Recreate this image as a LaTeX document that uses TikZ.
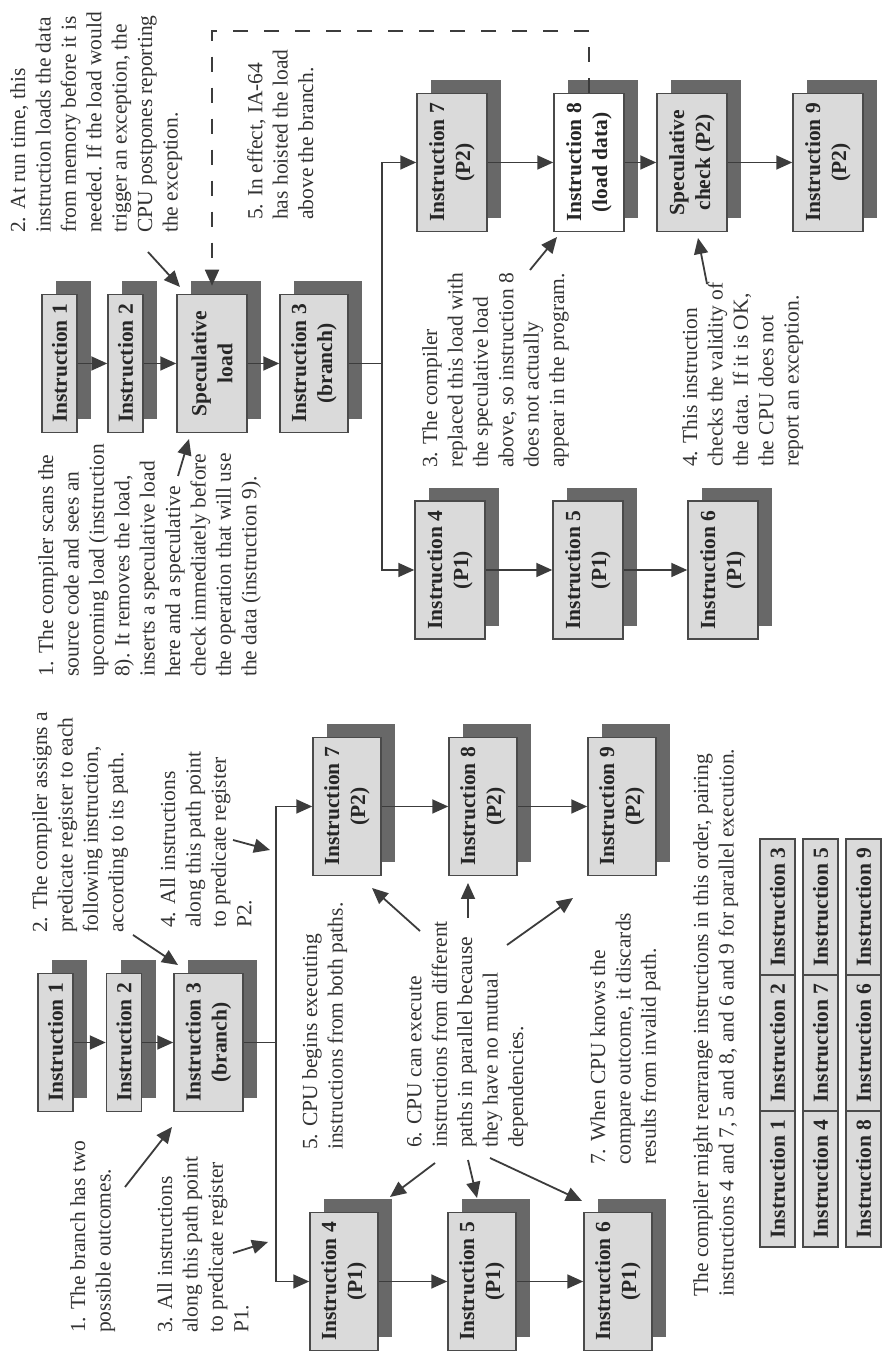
\documentclass[tikz,border=0pt]{standalone}
\usepackage{fontspec}
\setmainfont{Liberation Serif}
\usetikzlibrary{arrows.meta,calc}
\definecolor{linec}{HTML}{3C3C3C}
\definecolor{boxf}{HTML}{DADADA}
\definecolor{shadc}{HTML}{686868}
\definecolor{bord}{HTML}{4A4A4A}
\definecolor{txtc}{HTML}{333333}
\newcommand\instbox[6][]{%
  \node[shadbox,minimum height=#5pt] (#2s) at ({#3+13},{#4-14}) {};
  \node[ibox,minimum height=#5pt,#1] (#2) at (#3,#4) {#6};}
\begin{document}
\begin{tikzpicture}[x=1pt,y=1pt,
  ibox/.style={draw=bord,line width=1.5pt,fill=boxf,minimum width=138pt,inner sep=0pt,align=center,text=black!85,font=\bfseries\fontsize{21.5}{26}\selectfont},
  shadbox/.style={fill=shadc,draw=none,minimum width=138pt,inner sep=0pt},
  note/.style={anchor=north west,inner sep=0pt,align=left,text=txtc,font=\fontsize{21.5}{25.4}\selectfont},
  arr/.style={draw=linec,line width=1.8pt,-{Triangle[length=16pt,width=14pt]}},
  ln/.style={draw=linec,line width=1.8pt},
  dsh/.style={arr,dash pattern=on 15pt off 16pt},
  cell/.style={draw=bord,line width=1.5pt,fill=boxf,minimum width=136pt,minimum height=35pt,inner sep=0pt,text=black!85,font=\bfseries\fontsize{21.5}{26}\selectfont}]
\fill[white] (0,0) rectangle (882,1356);
\useasboundingbox (0,0) rectangle (882,1356);
\begin{scope}[rotate=90,transform shape]
% ---------------- left panel: predication ----------------
\instbox{L1}{313.5}{-55.5}{35}{Instruction 1}
\instbox{L2}{313.5}{-124}{35}{Instruction 2}
\instbox{L3}{313.5}{-208.5}{69}{Instruction 3\\(branch)}
\instbox{L4}{74.5}{-344}{68}{Instruction 4\\(P1)}
\instbox{L5}{74.5}{-482}{68}{Instruction 5\\(P1)}
\instbox{L6}{74.5}{-618}{68}{Instruction 6\\(P1)}
\instbox{L7}{549.5}{-347}{68}{Instruction 7\\(P2)}
\instbox{L8}{549.5}{-483}{68}{Instruction 8\\(P2)}
\instbox{L9}{549.5}{-622}{68}{Instruction 9\\(P2)}
\draw[arr] (L1.south) -- (L2.north);
\draw[arr] (L2.south) -- (L3.north);
\coordinate (Lj) at (313.5,-276);
\draw[ln] (L3.south) -- (Lj);
\draw[arr] (Lj) -| (L4.north);
\draw[arr] (Lj) -| (L7.north);
\draw[arr] (L4.south) -- (L5.north);
\draw[arr] (L5.south) -- (L6.north);
\draw[arr] (L7.south) -- (L8.north);
\draw[arr] (L8.south) -- (L9.north);
\node[note] (T1) at (23,-70) {1. The branch has two\\possible outcomes.};
\node[note] (T3) at (23,-157) {3. All instructions\\along this path point\\to predicate register\\P1.};
\node[note] (T2) at (423,-32) {2. The compiler assigns a\\predicate register to each\\following instruction,\\according to its path.};
\node[note] (T4) at (428,-160) {4. All instructions\\along this path point\\to predicate register\\P2.};
\node[note] (T5) at (206,-302) {5. CPU begins executing\\instructions from both paths.};
\node[note] (T6) at (208,-407) {6. CPU can execute\\instructions from different\\paths in parallel because\\they have no mutual\\dependencies.};
\node[note] (T7) at (191,-590) {7. When CPU knows the\\compare outcome, it discards\\results from invalid path.};
\coordinate (a1s) at (169,-125); \coordinate (a1e) at (229,-172);
\coordinate (a2s) at (421,-133); \coordinate (a2e) at (391,-178);
\coordinate (a3s) at (103,-233); \coordinate (a3e) at (114,-268);
\coordinate (a4s) at (516,-233); \coordinate (a4e) at (506,-270);
\draw[arr] (a1s) -- (a1e);
\draw[arr] (a2s) -- (a2e);
\draw[arr] (a3s) -- (a3e);
\draw[arr] (a4s) -- (a4e);
\coordinate (b4s) at (193,-435); \coordinate (b4e) at (159,-390);
\coordinate (b5s) at (196,-468); \coordinate (b5e) at (158,-477);
\coordinate (b6s) at (198,-490); \coordinate (b6e) at (155,-582);
\coordinate (b7s) at (425,-420); \coordinate (b7e) at (468,-372);
\coordinate (b8s) at (438,-468); \coordinate (b8e) at (473,-468);
\coordinate (b9s) at (411,-507); \coordinate (b9e) at (458,-573);
\draw[arr] (b4s) -- (b4e);
\draw[arr] (b5s) -- (b5e);
\draw[arr] (b6s) -- (b6e);
\draw[arr] (b7s) -- (b7e);
\draw[arr] (b8s) -- (b8e);
\draw[arr] (b9s) -- (b9e);
\node[note] (cap) at (59,-693) {The compiler might rearrange instructions in this order, pairing\\instructions 4 and 7, 5 and 8, and 6 and 9 for parallel execution.};
\node[cell] (c11) at (177,-777.5) {Instruction 1};
\node[cell] (c12) at (313,-777.5) {Instruction 2};
\node[cell] (c13) at (449,-777.5) {Instruction 3};
\node[cell] (c21) at (177,-820.5) {Instruction 4};
\node[cell] (c22) at (313,-820.5) {Instruction 7};
\node[cell] (c23) at (449,-820.5) {Instruction 5};
\node[cell] (c31) at (177,-863.5) {Instruction 8};
\node[cell] (c32) at (313,-863.5) {Instruction 6};
\node[cell] (c33) at (449,-863.5) {Instruction 9};
% ---------------- right panel: speculation ----------------
\instbox{R1}{992.5}{-59.5}{35}{Instruction 1}
\instbox{R2}{992.5}{-125.5}{35}{Instruction 2}
\instbox{R3}{992.5}{-212}{70}{Speculative\\load}
\instbox{R4}{992.5}{-314}{68}{Instruction 3\\(branch)}
\instbox{R5}{786}{-450}{70}{Instruction 4\\(P1)}
\instbox{R6}{786}{-588}{70}{Instruction 5\\(P1)}
\instbox{R7}{786}{-723}{70}{Instruction 6\\(P1)}
\instbox{R8}{1193.5}{-452}{70}{Instruction 7\\(P2)}
\instbox[fill=white]{R9}{1193.5}{-589}{70}{Instruction 8\\(load data)}
\instbox{R10}{1193.5}{-692}{70}{Speculative\\check (P2)}
\instbox{R11}{1193.5}{-828}{70}{Instruction 9\\(P2)}
\draw[arr] (R1.south) -- (R2.north);
\draw[arr] (R2.south) -- (R3.north);
\draw[arr] (R3.south) -- (R4.north);
\coordinate (Rj) at (992.5,-382);
\draw[ln] (R4.south) -- (Rj);
\draw[arr] (Rj) -| (R5.north);
\draw[arr] (Rj) -| (R8.north);
\draw[arr] (R5.south) -- (R6.north);
\draw[arr] (R6.south) -- (R7.north);
\draw[arr] (R8.south) -- (R9.north);
\draw[arr] (R9.south) -- (R10.north);
\draw[arr] (R10.south) -- (R11.north);
\draw[dsh] (R9.east) -- ++(62,0) |- ($(R3.east)+(8,0)$);
\node[note] (S1) at (679,-38) {1. The compiler scans the\\source code and sees an\\upcoming load (instruction\\8). It removes the load,\\inserts a speculative load\\here and a speculative\\check immediately before\\the operation that will use\\the data (instruction 9).};
\node[note] (S2) at (1123,-10) {2. At run time, this\\instruction loads the data\\from memory before it is\\needed. If the load would\\trigger an exception, the\\CPU postpones reporting\\the exception.};
\node[note] (S5) at (1136,-247) {5. In effect, IA-64\\has hoisted the load\\above the branch.};
\node[note] (S3) at (888,-422) {3. The compiler\\replaced this load with\\the speculative load\\above, so instruction 8\\does not actually\\appear in the program.};
\node[note] (S4) at (889,-682) {4. This instruction\\checks the validity of\\the data. If it is OK,\\the CPU does not\\report an exception.};
\coordinate (s1s) at (880,-178); \coordinate (s1e) at (917,-189);
\coordinate (s2s) at (1104,-148); \coordinate (s2e) at (1069,-180);
\coordinate (s3s) at (1086,-530); \coordinate (s3e) at (1119,-557);
\coordinate (s4s) at (1072,-707); \coordinate (s4e) at (1118,-698);
\draw[arr] (s1s) -- (s1e);
\draw[arr] (s2s) -- (s2e);
\draw[arr] (s3s) -- (s3e);
\draw[arr] (s4s) -- (s4e);
\end{scope}
\end{tikzpicture}
\end{document}
